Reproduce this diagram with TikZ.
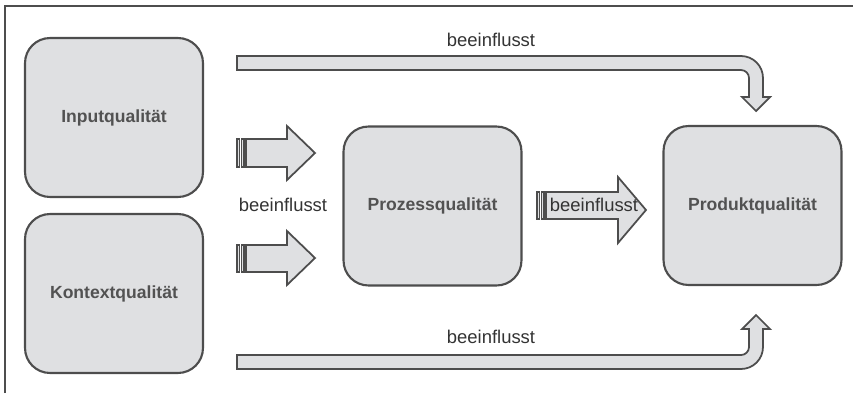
\documentclass[tikz,border=0pt]{standalone}
\usepackage{fontspec}
\setmainfont{Liberation Sans}
\usepackage{tikz}
\usetikzlibrary{positioning}
\definecolor{boxfill}{HTML}{DFE0E2}
\definecolor{boxline}{HTML}{4D4D4D}
\colorlet{labelgray}{black!68}
\tikzset{
  quality/.style={draw=boxline,fill=boxfill,line width=1.2pt,rounded corners=0.5cm,
    minimum width=3.56cm,minimum height=3.18cm,text=labelgray,
    font=\fontsize{10}{12}\selectfont\bfseries},
  blockarrow/.style={draw=boxline,fill=boxfill,line width=1pt,line join=miter},
  influence/.style={text=black!80,font=\fontsize{10.5}{12}\selectfont,inner sep=0pt}
}
\begin{document}
\begin{tikzpicture}[x=0.02cm,y=-0.02cm]
    \useasboundingbox (0,0) rectangle (853,393);
    % frame
    \draw[boxline,line width=1.1pt](5,393)--(5,6)--(853,6);
    % quality boxes
    \node[quality](input) at (114,117.5) {Inputqualität};
    \node[quality](kontext) at (114,293.5) {Kontextqualität};
    \node[quality](prozess) at (432.5,206) {Prozessqualität};
    \node[quality](produkt) at (752.5,205.5) {Produktqualität};
    % striped arrows towards the process box
    \draw[blockarrow](237,139) rectangle (239.5,167);
    \draw[blockarrow](241.5,139) rectangle (244,167);
    \draw[blockarrow](246,139)--(287,139)--(287,126)--(315,153)--(287,180)--(287,167)--(246,167)--cycle;
    \draw[blockarrow](237,245) rectangle (239.5,272);
    \draw[blockarrow](241.5,245) rectangle (244,272);
    \draw[blockarrow](246,245)--(287,245)--(287,231)--(315,258)--(287,285)--(287,272)--(246,272)--cycle;
    \node[influence](lblLeft) at (283,205) {beeinflusst};
    % striped arrow towards the product box
    \draw[blockarrow](537,192) rectangle (539.5,219);
    \draw[blockarrow](541.5,192) rectangle (544,219);
    \draw[blockarrow](546,192)--(618,192)--(618,177)--(646,210)--(618,243)--(618,219)--(546,219)--cycle;
    \node[influence](lblMid) at (594,205) {beeinflusst};
    % bent arrows from the outer boxes
    \draw[blockarrow](237,56)--(741,56) arc[start angle=-90,end angle=0,radius=22]
        --(763,97)--(770,97)--(756,111)--(742,97)--(749,97)--(749,78)
        arc[start angle=0,end angle=-90,radius=8]--(237,70)--cycle;
    \node[influence](lblTop) at (491,40) {beeinflusst};
    \draw[blockarrow](237,369)--(741,369) arc[start angle=90,end angle=0,radius=22]
        --(763,329)--(770,329)--(756,315)--(742,329)--(749,329)--(749,347)
        arc[start angle=0,end angle=90,radius=8]--(237,355)--cycle;
    \node[influence](lblBottom) at (491,337) {beeinflusst};
\end{tikzpicture}
\end{document}
